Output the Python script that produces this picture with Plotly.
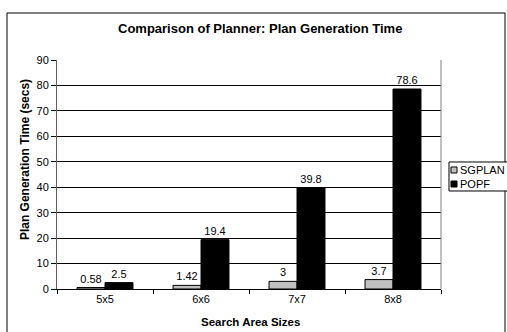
import plotly.graph_objects as go

# Plan generation time (seconds) per search area size
sizes = ["5x5", "6x6", "7x7", "8x8"]
sgplan = [0.58, 1.42, 3, 3.7]
popf = [2.5, 19.4, 39.8, 78.6]
sgplan_labels = ["0.58", "1.42", "3", "3.7"]
popf_labels = ["2.5", "19.4", "39.8", "78.6"]

FONT = "Arial, Liberation Sans, sans-serif"
SG_COLOR = "#c0c0c0"
POPF_COLOR = "#000000"

fig = go.Figure()
fig.add_trace(go.Bar(
    name="SGPLAN", x=sizes, y=sgplan, text=sgplan_labels,
    textposition="outside", cliponaxis=False,
    marker=dict(color=SG_COLOR, line=dict(color="#000000", width=1)),
    textfont=dict(family=FONT, size=11, color="#000000"),
))
fig.add_trace(go.Bar(
    name="POPF", x=sizes, y=popf, text=popf_labels,
    textposition="outside", cliponaxis=False,
    marker=dict(color=POPF_COLOR, line=dict(color="#000000", width=1)),
    textfont=dict(family=FONT, size=11, color="#000000"),
))

# compact boxed legend to the right of the plot area
legend_shapes = [
    dict(type="rect", xref="paper", yref="paper",
         x0=1.0208, x1=1.20, y0=0.428, y1=0.5546,
         line=dict(color="#000000", width=1), fillcolor="#ffffff"),
    dict(type="rect", xref="paper", yref="paper",
         x0=1.0260, x1=1.0417, y0=0.5066, y1=0.5328,
         line=dict(color="#000000", width=1), fillcolor=SG_COLOR),
    dict(type="rect", xref="paper", yref="paper",
         x0=1.0260, x1=1.0417, y0=0.4454, y1=0.4716,
         line=dict(color="#000000", width=1), fillcolor=POPF_COLOR),
]
legend_text = [
    dict(text="SGPLAN", xref="paper", yref="paper", x=1.0443, y=0.5197,
         xanchor="left", yanchor="middle", showarrow=False,
         font=dict(family=FONT, size=11)),
    dict(text="POPF", xref="paper", yref="paper", x=1.0443, y=0.4585,
         xanchor="left", yanchor="middle", showarrow=False,
         font=dict(family=FONT, size=11)),
]

fig.update_layout(
    width=507, height=332,
    margin=dict(l=57, r=66, t=60, b=43, autoexpand=False),
    paper_bgcolor="#ffffff", plot_bgcolor="#ffffff",
    barmode="group", bargap=0.417, bargroupgap=0,
    font=dict(family=FONT, size=11, color="#000000"),
    showlegend=False,
    xaxis=dict(
        showgrid=False, showline=True, linecolor="#000000", linewidth=1,
        ticks="outside", tickson="boundaries", ticklen=4, tickcolor="#000000",
        tickfont=dict(family=FONT, size=11),
    ),
    yaxis=dict(
        range=[0, 90], dtick=10, showgrid=True, gridcolor="#000000", gridwidth=1,
        showline=True, linecolor="#606060", linewidth=1,
        ticks="outside", ticklen=5, tickcolor="#000000",
        tickfont=dict(family=FONT, size=11), zeroline=False,
    ),
    shapes=[
        # right edge of the plot area
        dict(type="line", xref="paper", yref="paper", x0=1, x1=1, y0=0, y1=1,
             line=dict(color="#808080", width=1)),
        # outer chart frame
        dict(type="rect", xref="paper", yref="paper",
             x0=-0.1302, x1=1.1667, y0=-0.25, y1=1.2052,
             line=dict(color="#000000", width=1)),
    ] + legend_shapes,
    annotations=[
        dict(text="<b>Comparison of Planner: Plan Generation Time</b>",
             xref="paper", yref="paper", x=0.5286, y=1.1397, yanchor="middle",
             showarrow=False, font=dict(family=FONT, size=13)),
        dict(text="<b>Search Area Sizes</b>",
             xref="paper", yref="paper", x=0.505, y=-0.144, yanchor="middle",
             showarrow=False, font=dict(family=FONT, size=11.5)),
        dict(text="<b>Plan Generation Time (secs)</b>",
             xref="paper", yref="paper", x=-0.0833, y=0.563, textangle=-90,
             xanchor="center", yanchor="middle",
             showarrow=False, font=dict(family=FONT, size=12)),
    ] + legend_text,
)

fig.write_html("out.html")
